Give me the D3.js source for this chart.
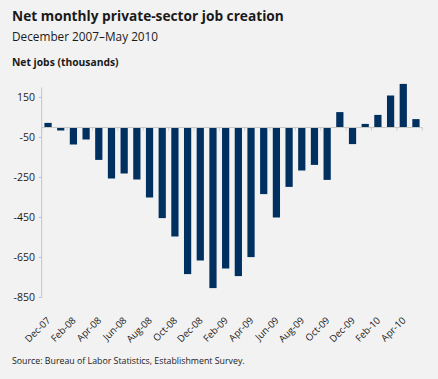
<!DOCTYPE html>
<html>
<head>
<meta charset="utf-8">
<script src="https://cdn.jsdelivr.net/npm/d3@7"></script>
<style>
  html, body { margin: 0; padding: 0; background: #f2f2f2; }
  svg { display: block; font-family: "Open Sans", sans-serif; }
</style>
</head>
<body>
<div id="chart"></div>
<script>
const months = ['Dec-07','Jan-08','Feb-08','Mar-08','Apr-08','May-08','Jun-08','Jul-08','Aug-08','Sep-08',
  'Oct-08','Nov-08','Dec-08','Jan-09','Feb-09','Mar-09','Apr-09','May-09','Jun-09','Jul-09',
  'Aug-09','Sep-09','Oct-09','Nov-09','Dec-09','Jan-10','Feb-10','Mar-10','Apr-10','May-10'];
const jobs = [23, -15, -85, -60, -162, -255, -230, -260, -350, -453,
  -545, -733, -665, -803, -705, -743, -648, -333, -450, -297,
  -215, -187, -262, 77, -83, 18, 63, 160, 218, 42];
const yTicks = [150, -50, -250, -450, -650, -850];

const width = 438, height = 379;
const margin = { top: 87.5, right: 15.7, bottom: 81.5, left: 41.7 };

const svg = d3.select('#chart').append('svg')
  .attr('width', width)
  .attr('height', height);

svg.append('rect').attr('width', width).attr('height', height).attr('fill', '#f2f2f2');

// titles
svg.append('text').attr('x', 12).attr('y', 21)
  .attr('font-size', 13.7).attr('font-weight', 'bold').attr('fill', '#1a1a1a')
  .text('Net monthly private-sector job creation');
svg.append('text').attr('x', 12).attr('y', 41)
  .attr('font-size', 11.8).attr('fill', '#1a1a1a')
  .text('December 2007\u2013May 2010');
svg.append('text').attr('x', 12).attr('y', 66)
  .attr('font-size', 10.3).attr('font-weight', 'bold').attr('fill', '#1a1a1a')
  .text('Net jobs (thousands)');
svg.append('text').attr('x', 12).attr('y', 364)
  .attr('font-size', 8.8).attr('fill', '#1a1a1a')
  .text('Source: Bureau of Labor Statistics, Establishment Survey.');

const x = d3.scaleBand()
  .domain(months)
  .range([margin.left, width - margin.right])
  .paddingInner(0.43)
  .paddingOuter(0.215);

const y = d3.scaleLinear()
  .domain([-850, 200])
  .range([height - margin.bottom, margin.top]);

// y axis
svg.append('line')
  .attr('x1', margin.left).attr('x2', margin.left)
  .attr('y1', y(200)).attr('y2', y(-850))
  .attr('stroke', '#c4c4c4').attr('stroke-width', 1);

svg.selectAll('.ytick').data(yTicks).enter().append('line')
  .attr('x1', margin.left - 3).attr('x2', margin.left)
  .attr('y1', d => y(d)).attr('y2', d => y(d))
  .attr('stroke', '#c4c4c4');

svg.selectAll('.ylab').data(yTicks).enter().append('text')
  .attr('x', 35).attr('y', d => y(d)).attr('dy', '0.35em')
  .attr('text-anchor', 'end').attr('font-size', 10.5).attr('fill', '#1a1a1a')
  .text(d => d);

// bars
svg.selectAll('.bar').data(jobs).enter().append('rect')
  .attr('x', (d, i) => x(months[i]))
  .attr('width', x.bandwidth())
  .attr('y', d => y(Math.max(0, d)))
  .attr('height', d => Math.abs(y(d) - y(0)))
  .attr('fill', '#003060');

// zero line and ticks every second month
svg.append('line')
  .attr('x1', margin.left).attr('x2', width - margin.right)
  .attr('y1', y(0)).attr('y2', y(0))
  .attr('stroke', '#c8c8c8').attr('stroke-width', 1.2);

const slot = (width - margin.right - margin.left) / months.length;
const tickIdx = d3.range(0, months.length + 1, 2);
svg.selectAll('.xtick').data(tickIdx).enter().append('line')
  .attr('x1', d => margin.left + d * slot)
  .attr('x2', d => margin.left + d * slot)
  .attr('y1', y(0)).attr('y2', y(0) + 3)
  .attr('stroke', '#c8c8c8');

// x labels, every second month
const labelMonths = months.filter((m, i) => i % 2 === 0);
svg.selectAll('.xlab').data(labelMonths).enter().append('text')
  .attr('transform', d => 'translate(' + (x(d) + x.bandwidth() / 2 + 3) + ',321) rotate(-45)')
  .attr('text-anchor', 'end').attr('font-size', 9.6).attr('fill', '#1a1a1a')
  .text(d => d);
</script>
</body>
</html>
